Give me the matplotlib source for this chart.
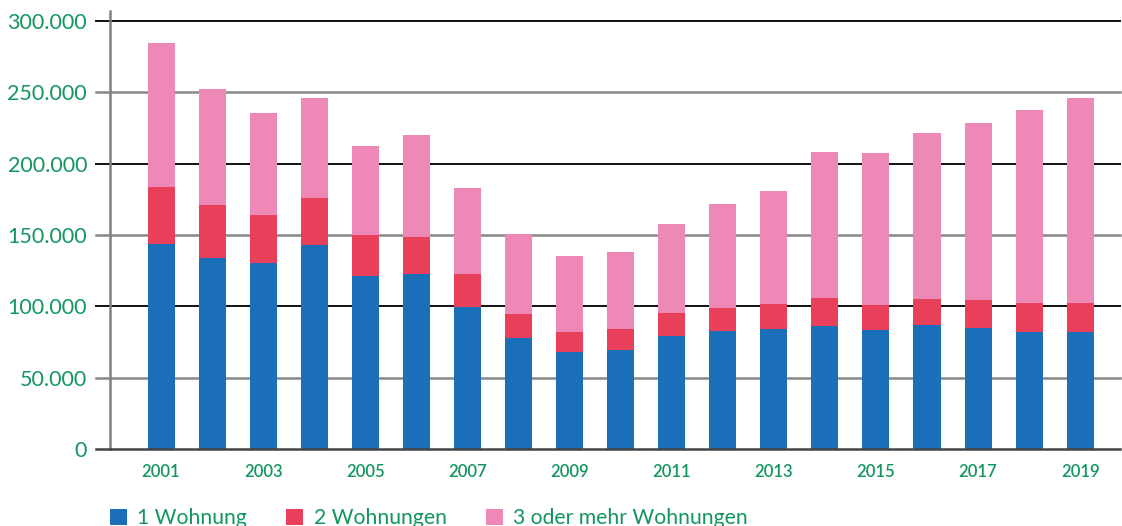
import matplotlib.pyplot as plt
import numpy as np

years = list(range(2001, 2020))

# Anzahl nach Wohnungen je Gebäude (in Tsd.)
ein_wohnung = [143.7, 133.9, 130.4, 143.0, 121.5, 122.7, 99.5, 78.0, 68.2, 69.6,
               79.2, 82.7, 84.1, 86.2, 83.6, 86.9, 84.8, 82.2, 82.2]
zwei_wohnungen = [39.9, 37.1, 33.6, 33.0, 28.5, 25.9, 23.2, 16.6, 13.8, 14.5,
                  16.1, 16.1, 17.5, 19.6, 17.3, 18.2, 19.6, 20.1, 20.1]
drei_plus = [101.0, 81.3, 71.5, 70.0, 62.4, 71.4, 60.3, 56.1, 53.3, 53.9,
             62.4, 72.9, 79.2, 102.4, 106.6, 116.4, 124.1, 135.3, 143.7]

labels = ["1 Wohnung", "2 Wohnungen", "3 oder mehr Wohnungen"]
colors = ["#1a6fb8", "#e8405b", "#ee88b7"]
green = "#12965e"

plt.rcParams["font.family"] = ["Lato", "DejaVu Sans"]

fig = plt.figure(figsize=(11.22, 5.26), dpi=100)
ax = fig.add_axes([110 / 1122, 1 - 449 / 526, 1010 / 1122, 438 / 526])

x = np.arange(len(years))
a = np.array(ein_wohnung) * 1000
b = np.array(zwei_wohnungen) * 1000
c = np.array(drei_plus) * 1000

w = 0.53
ax.bar(x, a, w, color=colors[0], label=labels[0], zorder=3)
ax.bar(x, b, w, bottom=a, color=colors[1], label=labels[1], zorder=3)
ax.bar(x, c, w, bottom=a + b, color=colors[2], label=labels[2], zorder=3)

ax.set_xlim(-1, 18.78)
ax.set_ylim(0, 307000)

# Gitterlinien, leicht über die Achse hinaus nach links
trans = ax.get_yaxis_transform()
for yv in range(50000, 300001, 50000):
    col = "#111111" if yv % 100000 == 0 else "#888888"
    lw = 1.4 if yv % 100000 == 0 else 1.8
    ax.plot([-0.014, 1], [yv, yv], transform=trans, color=col, lw=lw,
            clip_on=False, zorder=1)
ax.plot([-0.014, 1], [0, 0], transform=trans, color="#444444", lw=1.8,
        clip_on=False, zorder=4)

for s in ["top", "right", "bottom"]:
    ax.spines[s].set_visible(False)
ax.spines["left"].set_color("#808080")
ax.spines["left"].set_linewidth(1.8)

yt = list(range(0, 300001, 50000))
ax.set_yticks(yt)
ax.set_yticklabels(["0" if v == 0 else f"{v // 1000}.000" for v in yt])
ax.tick_params(axis="y", length=0, pad=16.5, labelsize=15.5, labelcolor=green)

ax.set_xticks(x[::2])
ax.set_xticklabels([str(y) for y in years[::2]])
ax.tick_params(axis="x", length=0, pad=11, labelsize=12, labelcolor=green)
for t in ax.get_xticklabels():
    t.set_fontweight("semibold")

ax.legend(loc="upper left", bbox_to_anchor=(0.0, -0.135), ncol=3,
          frameon=False, fontsize=15.2, labelcolor=green, handlelength=0.8,
          handleheight=0.8, handletextpad=0.5, columnspacing=1.85,
          borderaxespad=0, borderpad=0)

fig.savefig("out.png", dpi=100)
